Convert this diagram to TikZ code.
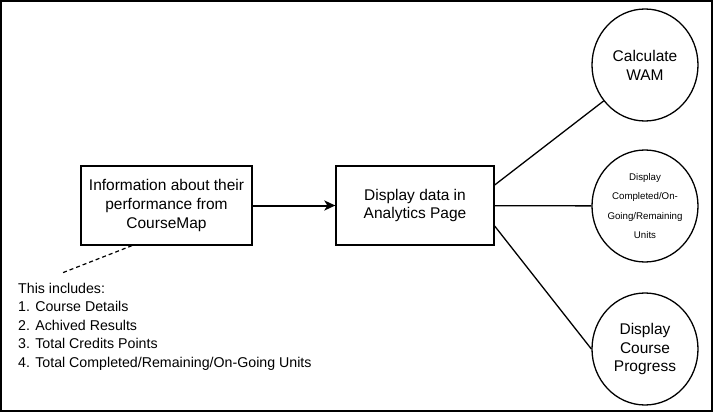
\documentclass[tikz,border=0pt]{standalone}
\usepackage{fontspec}
\setmainfont{Liberation Sans}
\usetikzlibrary{arrows.meta}
\usetikzlibrary{shapes.geometric}
\usetikzlibrary{math}

\tikzset{
  box/.style={draw, line width=1.3pt, minimum width=171pt, minimum height=79pt,
    inner sep=0pt, align=center, font=\fontsize{15.5}{18.8}\selectfont},
  bubble/.style={draw, ellipse, line width=1.3pt, minimum width=106pt, minimum height=112pt,
    inner sep=0pt, align=center, font=\fontsize{15.5}{18.8}\selectfont},
  link/.style={line width=1.3pt},
}

\begin{document}
\begin{tikzpicture}[x=1pt,y=-1pt]
\tikzmath{
\cx=645;
\my=205.5;
\off=20.5;
}
\useasboundingbox (0,0) rectangle (713,412);
\draw[line width=2.4pt] (1.2,1.2) rectangle (711.8,410.8);

%%%%%%%%%% boxes
\node[box] (info) at (166.5,\my) {Information about their\\performance from\\CourseMap};
\node[box, minimum width=158pt] (analytics) at (415,\my) {Display data in\\Analytics Page};
\draw[line width=2pt, -{Stealth[length=11pt,width=10pt,inset=3pt]}] (info) -- (analytics);

%%%%%%%%%% circles
\node[bubble] (wam) at (\cx,65) {Calculate\\WAM};
\node[bubble, font=\fontsize{9.7}{19.3}\selectfont] (units) at (\cx,206) {Display\\Completed/On-\\Going/Remaining\\Units};
\node[bubble] (progress) at (\cx,349) {Display\\Course\\Progress};

\draw[link] ([yshift=\off pt]analytics.east) -- (wam.221);
\draw[link] (analytics) -- (units);
\draw[link] ([yshift=-\off pt]analytics.east) -- (progress.west);

%%%%%%%%%% note
\node[anchor=north west, align=left, inner sep=0pt, font=\fontsize{14.2}{18.5}\selectfont] (list) at (18,283)
  {This includes:\\1. Course Details\\2. Achived Results\\3. Total Credits Points\\4. Total Completed/Remaining/On-Going Units};
\coordinate (tail) at (62,273);
\draw[line width=1.2pt, dash pattern=on 4pt off 3pt] ([xshift=-34.5pt]info.south) -- (tail);
\end{tikzpicture}
\end{document}
